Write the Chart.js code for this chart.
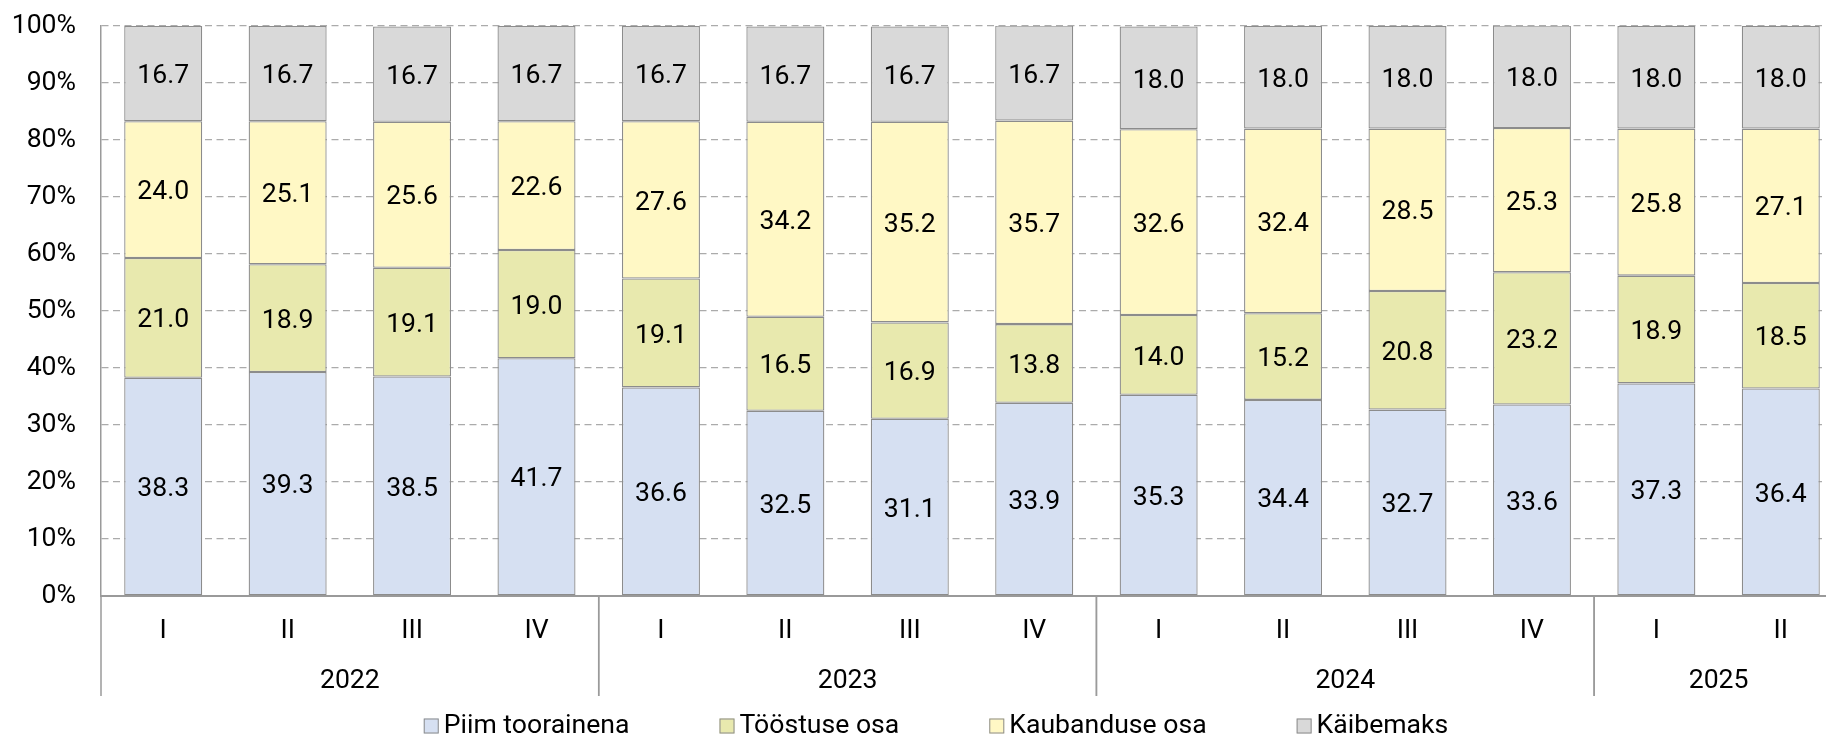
<!DOCTYPE html>
<html lang="et">
<head>
<meta charset="UTF-8">
<title>Piima jaehinna struktuur</title>
<script src="https://cdn.jsdelivr.net/npm/chart.js"></script>
<style>
  body { margin: 0; overflow: hidden; background: #fff; }
</style>
</head>
<body>
<canvas id="myChart" width="1872" height="737"></canvas>
<script>
    const quarters = ['I', 'II', 'III', 'IV', 'I', 'II', 'III', 'IV', 'I', 'II', 'III', 'IV', 'I', 'II'];
    const years = ['2022', '2022', '2022', '2022', '2023', '2023', '2023', '2023',
                   '2024', '2024', '2024', '2024', '2025', '2025'];
    const piim = [38.3, 39.3, 38.5, 41.7, 36.6, 32.5, 31.1, 33.9, 35.3, 34.4, 32.7, 33.6, 37.3, 36.4];
    const toostus = [21.0, 18.9, 19.1, 19.0, 19.1, 16.5, 16.9, 13.8, 14.0, 15.2, 20.8, 23.2, 18.9, 18.5];
    const kaubandus = [24.0, 25.1, 25.6, 22.6, 27.6, 34.2, 35.2, 35.7, 32.6, 32.4, 28.5, 25.3, 25.8, 27.1];
    const kaibemaks = [16.7, 16.7, 16.7, 16.7, 16.7, 16.7, 16.7, 16.7, 18.0, 18.0, 18.0, 18.0, 18.0, 18.0];
    const yTicks = ['0%', '10%', '20%', '30%', '40%', '50%', '60%', '70%', '80%', '90%', '100%'];

    const FONT = 'Roboto';
    const FS = 26.6;
    const axisGray = '#9a9a9a';

    // väärtused tulpade keskele
    const valueLabels = {
        id: 'valueLabels',
        afterDatasetsDraw(chart) {
            const ctx = chart.ctx;
            ctx.save();
            ctx.font = FS + 'px ' + FONT;
            ctx.fillStyle = '#000';
            ctx.textAlign = 'center';
            ctx.textBaseline = 'middle';
            chart.data.datasets.forEach((ds, i) => {
                chart.getDatasetMeta(i).data.forEach((bar, j) => {
                    ctx.fillText(ds.data[j].toFixed(1), bar.x, (bar.y + bar.base) / 2 + 3);
                });
            });
            ctx.restore();
        }
    };

    // aastad ja eraldusjooned x-telje all
    const yearAxis = {
        id: 'yearAxis',
        afterDraw(chart) {
            const {ctx, chartArea} = chart;
            const x = chart.scales.x;
            const step = x.getPixelForValue(1) - x.getPixelForValue(0);
            const bottom = chartArea.bottom;
            ctx.save();
            ctx.strokeStyle = axisGray;
            ctx.lineWidth = 1.5;
            ctx.font = FS + 'px ' + FONT;
            ctx.fillStyle = '#000';
            ctx.textAlign = 'center';
            ctx.textBaseline = 'middle';
            let start = 0;
            for (let i = 1; i <= years.length; i++) {
                if (i === years.length || years[i] !== years[start]) {
                    const left = x.getPixelForValue(start) - step / 2;
                    const right = x.getPixelForValue(i - 1) + step / 2;
                    [left, right].forEach(px => {
                        ctx.beginPath();
                        ctx.moveTo(px, bottom);
                        ctx.lineTo(px, bottom + 100);
                        ctx.stroke();
                    });
                    const mid = (x.getPixelForValue(start) + x.getPixelForValue(i - 1)) / 2;
                    ctx.fillText(years[start], mid, bottom + 85);
                    start = i;
                }
            }
            ctx.restore();
        }
    };

    // legend alla keskele
    const bottomLegend = {
        id: 'bottomLegend',
        afterDraw(chart) {
            const ctx = chart.ctx;
            const box = 15, gapText = 5, gapItem = 90;
            ctx.save();
            ctx.font = FS + 'px ' + FONT;
            const items = chart.data.datasets.map(ds => ({
                text: ds.label, color: ds.backgroundColor, w: ctx.measureText(ds.label).width
            }));
            let total = 0;
            items.forEach((it, i) => { total += box + gapText + it.w + (i < items.length - 1 ? gapItem : 0); });
            let cx = chart.width / 2 - total / 2;
            const cy = chart.height - 11;
            ctx.textBaseline = 'middle';
            ctx.textAlign = 'left';
            items.forEach(it => {
                ctx.fillStyle = it.color;
                ctx.fillRect(cx, cy - box / 2, box, box);
                ctx.strokeStyle = '#8c8c8c';
                ctx.lineWidth = 1;
                ctx.strokeRect(cx + 0.5, cy - box / 2 + 0.5, box - 1, box - 1);
                ctx.fillStyle = '#000';
                ctx.fillText(it.text, cx + box + gapText, cy);
                cx += box + gapText + it.w + gapItem;
            });
            ctx.restore();
        }
    };

    const barStyle = {
        borderColor: '#8c8c8c',
        borderWidth: 1.3,
        borderSkipped: false,
        barPercentage: 0.627,
        categoryPercentage: 1.0
    };

    const ctx = document.getElementById('myChart').getContext('2d');
    new Chart(ctx, {
        type: 'bar',
        data: {
            labels: quarters,
            datasets: [
                Object.assign({label: 'Piim toorainena', data: piim, backgroundColor: '#d6e0f2'}, barStyle),
                Object.assign({label: 'Tööstuse osa', data: toostus, backgroundColor: '#e8e9ae'}, barStyle),
                Object.assign({label: 'Kaubanduse osa', data: kaubandus, backgroundColor: '#fff8c5'}, barStyle),
                Object.assign({label: 'Käibemaks', data: kaibemaks, backgroundColor: '#d9d9d9'}, barStyle)
            ]
        },
        options: {
            responsive: false,
            animation: false,
            layout: {padding: {left: 0, right: 29, top: 26, bottom: 41}},
            plugins: {
                legend: {display: false},
                tooltip: {enabled: false}
            },
            scales: {
                x: {
                    stacked: true,
                    grid: {display: false},
                    border: {display: true, color: axisGray, width: 2},
                    ticks: {
                        color: '#000',
                        font: {family: FONT, size: FS},
                        padding: 11,
                        maxRotation: 0
                    },
                    afterFit: scale => { scale.height = 100; }
                },
                y: {
                    stacked: true,
                    min: 0,
                    max: 100,
                    grid: {
                        color: '#ababab',
                        lineWidth: 1.3,
                        drawTicks: false
                    },
                    border: {display: true, color: axisGray, width: 1.5, dash: [7, 4.5]},
                    ticks: {
                        stepSize: 10,
                        color: '#000',
                        font: {family: FONT, size: FS},
                        padding: 25,
                        callback: (v, i) => yTicks[i]
                    },
                    afterFit: scale => {
                        scale.width = 101;
                        scale.paddingTop = 0;
                        scale.paddingBottom = 0;
                    }
                }
            }
        },
        plugins: [valueLabels, yearAxis, bottomLegend]
    });
</script>
</body>
</html>
